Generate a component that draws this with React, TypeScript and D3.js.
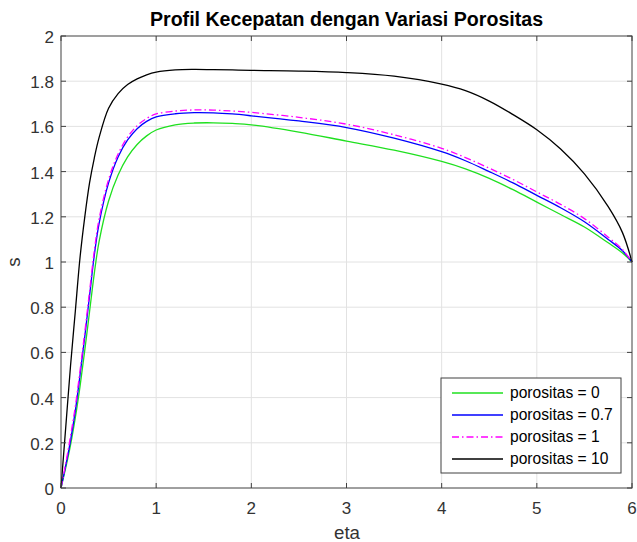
import * as d3 from "d3";
import React from "react";

// eta grid shared by all series
const eta = [
	0, 0.05, 0.1, 0.15, 0.2, 0.25, 0.3, 0.35, 0.4, 0.5, 0.6, 0.7, 0.8, 0.9, 1.0,
	1.2, 1.4, 1.6, 1.8, 2.0, 2.5, 3.0, 3.5, 4.0, 4.25, 4.5, 4.75, 5.0, 5.25, 5.5,
	5.75, 5.9, 6.0,
];

const sPor0 = [
	0, 0.09, 0.19, 0.31, 0.45, 0.61, 0.78, 0.95, 1.09, 1.27, 1.385, 1.465, 1.52,
	1.558, 1.584, 1.607, 1.615, 1.616, 1.613, 1.607, 1.575, 1.535, 1.495, 1.445,
	1.412, 1.37, 1.32, 1.265, 1.21, 1.155, 1.085, 1.04, 1.0,
];
const sPor07 = [
	0, 0.1, 0.21, 0.34, 0.5, 0.67, 0.85, 1.03, 1.17, 1.35, 1.465, 1.54, 1.59,
	1.622, 1.642, 1.656, 1.661, 1.66, 1.655, 1.647, 1.624, 1.595, 1.548, 1.488,
	1.448, 1.4, 1.35, 1.295, 1.24, 1.178, 1.1, 1.05, 1.0,
];
const sPor1 = [
	0, 0.11, 0.23, 0.36, 0.52, 0.69, 0.87, 1.05, 1.19, 1.365, 1.478, 1.553, 1.603,
	1.635, 1.655, 1.668, 1.673, 1.672, 1.668, 1.662, 1.64, 1.61, 1.563, 1.503,
	1.462, 1.415, 1.365, 1.31, 1.255, 1.192, 1.11, 1.055, 1.0,
];
const sPor10 = [
	0, 0.27, 0.54, 0.78, 1.02, 1.2, 1.35, 1.46, 1.55, 1.68, 1.745, 1.785, 1.81,
	1.828, 1.84, 1.85, 1.852, 1.851, 1.85, 1.848, 1.845, 1.838, 1.822, 1.787,
	1.758, 1.712, 1.652, 1.585, 1.5, 1.39, 1.245, 1.13, 1.0,
];

const xTicks = [0, 1, 2, 3, 4, 5, 6];
const yTicks = [0, 0.2, 0.4, 0.6, 0.8, 1, 1.2, 1.4, 1.6, 1.8, 2];
const yTickLabels = ["0", "0.2", "0.4", "0.6", "0.8", "1", "1.2", "1.4", "1.6", "1.8", "2"];

interface Series {
	label: string;
	values: number[];
	color: string;
	dash?: string;
}

const series: Series[] = [
	{ label: "porositas = 0", values: sPor0, color: "#1fe01f" },
	{ label: "porositas = 0.7", values: sPor07, color: "#0000ff" },
	{ label: "porositas = 1", values: sPor1, color: "#ff00ff", dash: "7,3,1.5,3" },
	{ label: "porositas = 10", values: sPor10, color: "#000000" },
];

const App = () => {
	const W = 637,
		H = 542;
	const box = { left: 61, right: 632, top: 36, bottom: 488 };
	const axisColor = "#404040";
	const font = "'Liberation Sans', Arial, Helvetica, sans-serif";

	const x = d3.scaleLinear().domain([0, 6]).range([box.left, box.right]);
	const y = d3.scaleLinear().domain([0, 2]).range([box.bottom, box.top]);

	const line = d3
		.line<number>()
		.x((_, i) => x(eta[i]))
		.y((d) => y(d))
		.curve(d3.curveCatmullRom.alpha(0.5));

	const tickLen = 5;
	const legend = { x: 441, y: 378, w: 180, h: 95 };

	return (
		<svg
			width={W}
			height={H}
			viewBox={`0 0 ${W} ${H}`}
			style={{ position: "absolute", left: 0, top: 0, background: "#fff" }}
			fontFamily={font}
		>
			<rect x={0} y={0} width={W} height={H} fill="#fff" />
			{/* grid */}
			<g stroke="#e2e2e2" strokeWidth={1}>
				{xTicks.slice(1, -1).map((t) => (
					<line key={"gx" + t} x1={x(t)} x2={x(t)} y1={box.top} y2={box.bottom} />
				))}
				{yTicks.slice(1, -1).map((t) => (
					<line key={"gy" + t} x1={box.left} x2={box.right} y1={y(t)} y2={y(t)} />
				))}
			</g>

			{/* curves */}
			<g fill="none" strokeWidth={1.3}>
				{series.map((s) => (
					<path
						key={s.label}
						d={line(s.values) ?? ""}
						stroke={s.color}
						strokeDasharray={s.dash}
					/>
				))}
			</g>

			{/* box + ticks */}
			<g stroke={axisColor} strokeWidth={1}>
				<rect
					x={box.left}
					y={box.top}
					width={box.right - box.left}
					height={box.bottom - box.top}
					fill="none"
				/>
				{xTicks.map((t) => (
					<g key={"tx" + t}>
						<line x1={x(t)} x2={x(t)} y1={box.bottom} y2={box.bottom - tickLen} />
						<line x1={x(t)} x2={x(t)} y1={box.top} y2={box.top + tickLen} />
					</g>
				))}
				{yTicks.map((t) => (
					<g key={"ty" + t}>
						<line x1={box.left} x2={box.left + tickLen} y1={y(t)} y2={y(t)} />
						<line x1={box.right} x2={box.right - tickLen} y1={y(t)} y2={y(t)} />
					</g>
				))}
			</g>

			{/* tick labels */}
			<g fill="#333" fontSize={17}>
				{xTicks.map((t) => (
					<text key={"lx" + t} x={x(t)} y={513.5} textAnchor="middle">
						{t}
					</text>
				))}
				{yTicks.map((t, i) => (
					<text key={"ly" + t} x={54} y={y(t) + 1} dy="0.35em" textAnchor="end">
						{yTickLabels[i]}
					</text>
				))}
			</g>

			{/* axis labels */}
			<text x={347} y={539} textAnchor="middle" fontSize={18.7} fill="#333">
				eta
			</text>
			<text
				transform={`translate(19.5,262) rotate(-90)`}
				textAnchor="middle"
				fontSize={18.7}
				fill="#333"
			>
				s
			</text>

			{/* title */}
			<text
				x={346.5}
				y={26}
				textAnchor="middle"
				fontSize={19.6}
				fontWeight="bold"
				fill="#000"
			>
				Profil Kecepatan dengan Variasi Porositas
			</text>

			{/* legend */}
			<g>
				<rect
					x={legend.x}
					y={legend.y}
					width={legend.w}
					height={legend.h}
					fill="#fff"
					stroke={axisColor}
					strokeWidth={1}
				/>
				{series.map((s, i) => {
					const ly = 393 + i * 22;
					return (
						<g key={"lg" + s.label}>
							<line
								x1={452}
								x2={503}
								y1={ly}
								y2={ly}
								stroke={s.color}
								strokeWidth={1.3}
								strokeDasharray={s.dash}
							/>
							<text x={510} y={ly} dy="0.35em" fontSize={15.6} fill="#000">
								{s.label}
							</text>
						</g>
					);
				})}
			</g>
		</svg>
	);
};

export default App;
